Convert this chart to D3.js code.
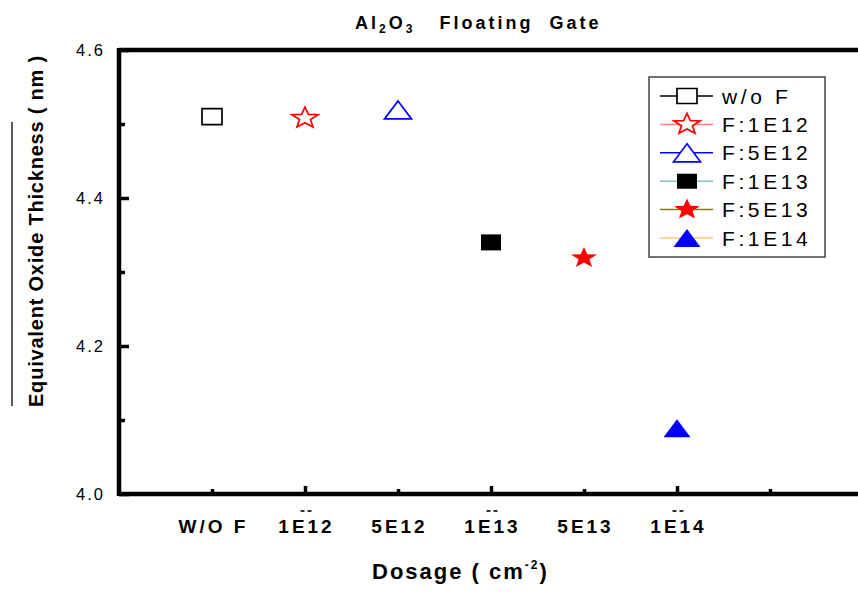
<!DOCTYPE html>
<html>
<head>
<meta charset="utf-8">
<script src="https://cdn.jsdelivr.net/npm/d3@7"></script>
<style>
  html, body { margin: 0; padding: 0; background: #fff; }
  svg { display: block; font-family: Arial, "Liberation Sans", sans-serif; }
</style>
</head>
<body>
<svg id="chart" width="858" height="592"></svg>
<script>
// Equivalent oxide thickness of Al2O3 floating-gate devices vs. fluorine implant dosage
const categories   = ["W/O F", "1E12", "5E12", "1E13", "5E13", "1E14"];
const seriesNames  = ["w/o F", "F:1E12", "F:5E12", "F:1E13", "F:5E13", "F:1E14"];
const thickness    = [4.51, 4.508, 4.519, 4.34, 4.319, 4.089];
const yMajorTicks  = [4.0, 4.2, 4.4, 4.6];
const yMinorTicks  = [4.1, 4.3, 4.5];
const xMajorTicks  = [2, 4, 6];
const xMinorTicks  = [1, 3, 5, 7];
const dashedTicks  = ["1E12", "1E13", "1E14"];   // labels carrying the small "--" mark

// marker styling per series
const markerShapes = ["square", "star", "triangle", "square", "star", "triangle"];
const markerFilled = [false, false, false, true, true, true];
const markerColors = ["#000000", "#ff0000", "#0000ff", "#000000", "#ff0000", "#0000ff"];
const lineColors   = ["#000000", "#ff8080", "#0000ff", "#80c0c0", "#808020", "#ffc080"];

const svg = d3.select("#chart");

const x = d3.scaleLinear().domain([0, 8]).range([119, 863]);
const y = d3.scaleLinear().domain([4.0, 4.6]).range([494, 50]);

// marker outline centred on the origin
function markerPath(shape, w, h) {
  const p = d3.path();
  if (shape === "square") {
    p.rect(-w / 2, -h / 2, w, h);
  } else if (shape === "triangle") {
    p.moveTo(0, -h / 2); p.lineTo(w / 2, h / 2); p.lineTo(-w / 2, h / 2); p.closePath();
  } else if (shape === "star") {
    const sx = w / (2 * Math.sin(2 * Math.PI / 5));
    const sy = h / (1 + Math.cos(Math.PI / 5));
    const inner = 0.42;
    for (let k = 0; k < 10; k++) {
      const r = k % 2 === 0 ? 1 : inner;
      const a = -Math.PI / 2 + k * Math.PI / 5;
      const px = Math.cos(a) * r * sx, py = Math.sin(a) * r * sy;
      if (k === 0) p.moveTo(px, py); else p.lineTo(px, py);
    }
    p.closePath();
  }
  return p.toString();
}
const markerSize = { square: [20, 16], star: [26, 20], triangle: [27, 18] };

// ---- axes ----
const yAxisMajor = d3.axisLeft(y).tickValues(yMajorTicks).tickFormat(d3.format(".1f"))
  .tickSizeInner(-10).tickSizeOuter(0).tickPadding(14);
const yAxisMinor = d3.axisLeft(y).tickValues(yMinorTicks).tickFormat("")
  .tickSizeInner(-6).tickSizeOuter(0);
const xAxisMajor = d3.axisBottom(x).tickValues(xMajorTicks).tickFormat("")
  .tickSizeInner(-8).tickSizeOuter(0);
const xAxisMinor = d3.axisBottom(x).tickValues(xMinorTicks).tickFormat("")
  .tickSizeInner(-5).tickSizeOuter(0);

function styleAxis(g, w) {
  g.select(".domain").remove();
  g.selectAll(".tick line").attr("stroke", "#000").attr("stroke-width", w);
}

svg.append("g").attr("transform", "translate(119,0)").call(yAxisMajor)
  .call(g => styleAxis(g, 3.5))
  .call(g => g.selectAll(".tick text")
    .attr("font-size", 16.5).attr("letter-spacing", 2).attr("fill", "#000")
    .attr("font-family", "Arial, 'Liberation Sans', sans-serif"));
svg.append("g").attr("transform", "translate(119,0)").call(yAxisMinor).call(g => styleAxis(g, 3.5));
svg.append("g").attr("transform", "translate(0,494)").call(xAxisMajor).call(g => styleAxis(g, 3.5));
svg.append("g").attr("transform", "translate(0,494)").call(xAxisMinor).call(g => styleAxis(g, 3.5));

// frame: left, bottom and top edges
const frame = svg.append("g").attr("stroke", "#000").attr("stroke-width", 4.5).attr("fill", "none");
frame.append("line").attr("x1", x(0)).attr("x2", x(0)).attr("y1", y(4.6) - 2).attr("y2", y(4.0) + 2);
frame.append("line").attr("x1", x(0)).attr("x2", 858).attr("y1", y(4.0)).attr("y2", y(4.0));
frame.append("line").attr("x1", x(0)).attr("x2", 858).attr("y1", y(4.6)).attr("y2", y(4.6));

// category labels under the axis
const catG = svg.append("g").attr("font-weight", "bold").attr("font-size", 19)
  .attr("letter-spacing", 3).attr("text-anchor", "middle");
catG.selectAll("text.cat").data(categories).join("text").attr("class", "cat")
  .attr("x", (d, i) => x(i + 1) + 1.5).attr("y", 533).text(d => d);
// the small double dash above some labels
catG.selectAll("g.mark").data(categories.filter(d => dashedTicks.includes(d))).join("g")
  .attr("class", "mark")
  .attr("transform", d => `translate(${x(categories.indexOf(d) + 1) + 1},511)`)
  .selectAll("line").data([-3.5, 3.5]).join("line")
  .attr("x1", o => o - 2).attr("x2", o => o + 2).attr("y1", 0).attr("y2", 0)
  .attr("stroke", "#000").attr("stroke-width", 1.6);

// ---- data markers ----
svg.append("g").selectAll("path").data(thickness).join("path")
  .attr("transform", (d, i) => `translate(${x(i + 1)},${y(d)})`)
  .attr("d", (d, i) => markerPath(markerShapes[i], ...markerSize[markerShapes[i]]))
  .attr("fill", (d, i) => markerFilled[i] ? markerColors[i] : "none")
  .attr("stroke", (d, i) => markerColors[i])
  .attr("stroke-width", (d, i) => markerFilled[i] ? 0 : 1.7);

// ---- legend ----
const legend = svg.append("g");
legend.append("rect").attr("x", 649).attr("y", 77).attr("width", 176).attr("height", 180)
  .attr("fill", "#fff").attr("stroke", "#444").attr("stroke-width", 1.5);
const rowY = i => 96 + i * 28.4;
const rows = legend.selectAll("g.row").data(seriesNames).join("g").attr("class", "row")
  .attr("transform", (d, i) => `translate(0,${rowY(i)})`);
rows.append("line").attr("x1", 660).attr("x2", 713).attr("y1", 0).attr("y2", 0)
  .attr("stroke", (d, i) => lineColors[i]).attr("stroke-width", 1.5);
rows.append("path")
  .attr("transform", "translate(687,0)")
  .attr("d", (d, i) => markerPath(markerShapes[i], ...(markerShapes[i] === "square" ? [20, 15] : markerSize[markerShapes[i]])))
  .attr("fill", (d, i) => markerFilled[i] ? markerColors[i] : "#fff")
  .attr("stroke", (d, i) => markerColors[i])
  .attr("stroke-width", (d, i) => markerFilled[i] ? 0 : 1.7);
rows.append("text").attr("x", 722).attr("y", 7.5).attr("font-size", 21)
  .attr("letter-spacing", 3.6).attr("fill", "#000").text(d => d);

// ---- titles ----
const title = svg.append("text").attr("x", 355).attr("y", 29)
  .attr("font-weight", "bold").attr("font-size", 18).attr("letter-spacing", 3)
  .style("white-space", "pre");
title.append("tspan").text("Al");
title.append("tspan").attr("font-size", 12).attr("dy", 4).text("2");
title.append("tspan").attr("dy", -4).text("O");
title.append("tspan").attr("font-size", 12).attr("dy", 4).text("3");
title.append("tspan").attr("dy", -4).text("   Floating  Gate");

const xTitle = svg.append("text").attr("x", 372).attr("y", 579)
  .attr("font-weight", "bold").attr("font-size", 22).attr("letter-spacing", 2)
  .style("white-space", "pre");
xTitle.append("tspan").text("Dosage ( cm");
xTitle.append("tspan").attr("font-size", 12).attr("dy", -10).text("-2");
xTitle.append("tspan").attr("dy", 10).text(")");

svg.append("text").attr("transform", "translate(43,231) rotate(-90)")
  .attr("text-anchor", "middle").attr("font-weight", "bold").attr("font-size", 20)
  .attr("letter-spacing", 0.8).text("Equivalent Oxide Thickness ( nm )");
svg.append("line").attr("x1", 12).attr("x2", 12).attr("y1", 122).attr("y2", 406)
  .attr("stroke", "#000").attr("stroke-width", 1.3);
</script>
</body>
</html>
